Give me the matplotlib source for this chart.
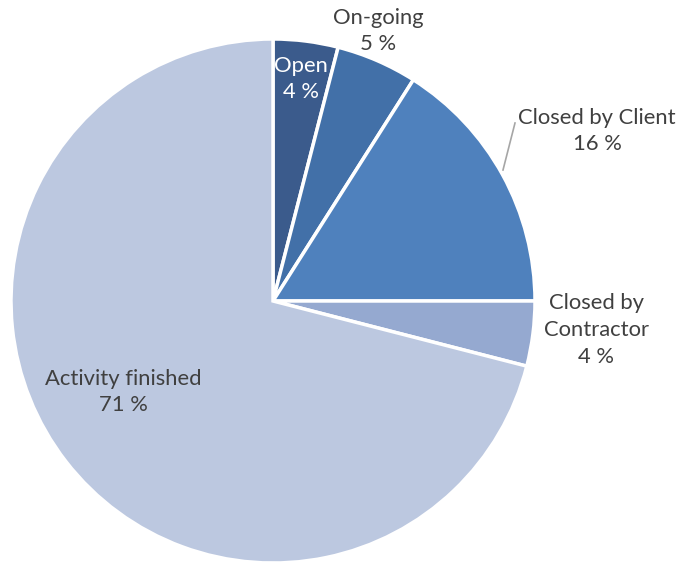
import matplotlib
matplotlib.use("Agg")
import matplotlib.pyplot as plt

categories = ["Open", "On-going", "Closed by Client", "Closed by\nContractor", "Activity finished"]
shares = [4, 5, 16, 4, 71]
colors = ["#3b5b8c", "#4270a8", "#4f81bd", "#95a9d0", "#bcc8e0"]

plt.rcParams["font.family"] = ["Lato", "DejaVu Sans"]

W, H = 679, 563
fig = plt.figure(figsize=(W / 100, H / 100), dpi=100)
cx, cy, r = 273, 301, 262
ax = fig.add_axes([(cx - r) / W, (H - cy - r) / H, 2 * r / W, 2 * r / H])
ax.pie(shares, colors=colors, startangle=90, counterclock=False, radius=1,
       wedgeprops=dict(edgecolor="white", linewidth=2.5))
ax.set_xlim(-1, 1)
ax.set_ylim(-1, 1)
ax.set_aspect("equal")
ax.axis("off")

def px(x, y):
    return (x - cx) / r, (cy - y) / r

label_pos = [(301, 79), (378, 31), (597, 131), (596, 330), (123, 392)]
text_colors = ["white", "#404040", "#404040", "#404040", "#404040"]
for name, val, (lx, ly), tc in zip(categories, shares, label_pos, text_colors):
    x, y = px(lx, ly)
    ax.text(x, y, f"{name}\n{val} %", ha="center", va="center", color=tc,
            fontsize=15.8, linespacing=1.42, clip_on=False)

x0, y0 = px(503, 170)
x1, y1 = px(515, 123)
ax.plot([x0, x1], [y0, y1], color="#a6a6a6", linewidth=1.2, clip_on=False)

fig.savefig("out.png", dpi=100)
